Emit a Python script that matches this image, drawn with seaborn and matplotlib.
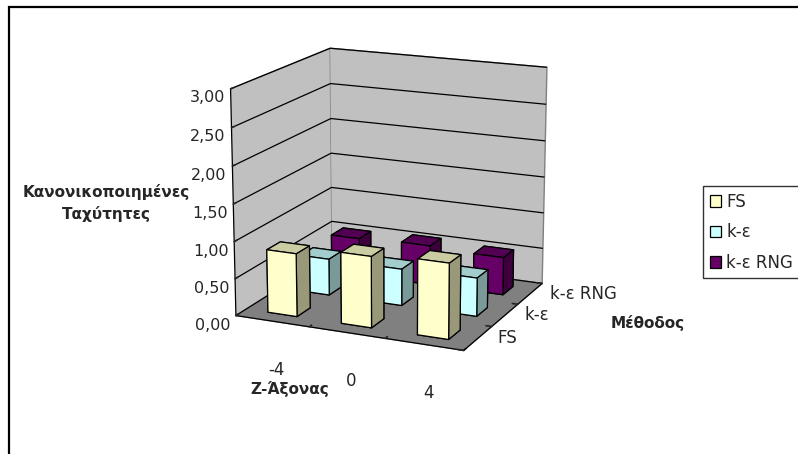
import numpy as np
import pandas as pd
import matplotlib
matplotlib.use("Agg")
import matplotlib.pyplot as plt
import seaborn as sns
from matplotlib.patches import Patch, Rectangle
from mpl_toolkits.mplot3d import proj3d

# ---------------- data ----------------
positions = ["-4", "0", "4"]                 # Ζ-Άξονας categories
methods = ["FS", "k-ε", "k-ε RNG"]           # Μέθοδος series
fs_values = [0.85, 0.95, 1.00]
ke_values = [0.50, 0.50, 0.52]
rng_values = [0.52, 0.55, 0.52]
z_ticks = [0.0, 0.5, 1.0, 1.5, 2.0, 2.5, 3.0]
z_tick_labels = ["0,00", "0,50", "1,00", "1,50", "2,00", "2,50", "3,00"]
series_colors = ["#FFFFCC", "#CCFFFF", "#660066"]

sns.set_theme(style="white")
plt.rcParams["font.family"] = ["DejaVu Sans"]

df = pd.DataFrame({
    "position": positions * 3,
    "method": np.repeat(methods, len(positions)),
    "value": fs_values + ke_values + rng_values,
})
df["xi"] = pd.Categorical(df["position"], categories=positions).codes
df["yi"] = pd.Categorical(df["method"], categories=methods).codes
palette = sns.color_palette(series_colors)

fig = plt.figure(figsize=(7.98, 4.54), dpi=100)
ax = fig.add_axes([0.155, 0.088, 0.66, 0.96], projection="3d")
ax.set_proj_type("persp", focal_length=0.8)
ax.view_init(elev=15.5, azim=-66)
ax.set_box_aspect((0.5554, 0.50, 0.5247), zoom=0.89)

# per-face shading like the spreadsheet 3D columns:
# face order in bar3d: bottom, top, front(-y), back(+y), left(-x), right(+x)
shade_factors = [0.5, 0.8, 1.0, 1.0, 0.6, 0.6]
face_colors = []
for yi in df["yi"]:
    base = np.array(palette[yi])
    face_colors += [tuple(base * s) for s in shade_factors]

bw = 0.4
ax.bar3d(df["xi"] - bw / 2, df["yi"] - bw / 2, np.zeros(len(df)),
         bw, bw, df["value"], color=face_colors, edgecolor="black",
         linewidth=0.9, shade=False)

ax.set_xlim(-0.5, len(positions) - 0.5)
ax.set_ylim(-0.5, len(methods) - 0.5)
ax.set_zlim(0, 3)

# panes
ax.xaxis.set_pane_color("#C0C0C0")
ax.yaxis.set_pane_color("#C0C0C0")
ax.zaxis.set_pane_color("#808080")
for a in (ax.xaxis, ax.yaxis, ax.zaxis):
    a.pane.set_edgecolor("#808080")
    a.line.set_color("black")
    a.line.set_linewidth(0.9)
ax.zaxis.set_ticks_position("lower")

ax.grid(True)
ax.xaxis._axinfo["grid"].update(color=(1, 1, 1, 0), linewidth=0)
ax.yaxis._axinfo["grid"].update(color=(1, 1, 1, 0), linewidth=0)
ax.zaxis._axinfo["grid"].update(color="black", linewidth=0.9, linestyle="-")
for a in (ax.xaxis, ax.yaxis, ax.zaxis):
    a._axinfo["tick"]["inward_factor"] = 0.0
    a._axinfo["tick"]["outward_factor"] = 0.3

ax.set_zticks(z_ticks)
ax.set_zticklabels(z_tick_labels, fontsize=11.5)
ax.set_xticks(np.arange(len(positions) + 1) - 0.5)
ax.set_xticklabels([""] * (len(positions) + 1))
ax.set_yticks(np.arange(len(methods) + 1) - 0.5)
ax.set_yticklabels([""] * (len(methods) + 1))

# category labels placed at projected positions on the floor edges
fig.canvas.draw()
M = ax.get_proj()
for i, lab in enumerate(positions):
    px, py, _ = proj3d.proj_transform(i, -0.5, 0, M)
    ax.annotate(lab, xy=(px, py), xycoords="data", xytext=(3, -35),
                textcoords="offset points", ha="center", va="center",
                fontsize=12, annotation_clip=False)
for j, lab in enumerate(methods):
    px, py, _ = proj3d.proj_transform(len(positions) - 0.5, j, 0, M)
    ax.annotate(lab, xy=(px, py), xycoords="data", xytext=(14, 0),
                textcoords="offset points", ha="left", va="center",
                fontsize=12, annotation_clip=False)

fig.text(106 / 798, 1 - 203 / 454, "Κανονικοποιημένες\nΤαχύτητες", ha="center",
         va="center", fontsize=11, fontweight="bold", linespacing=1.5)
fig.text(290 / 798, 1 - 389 / 454, "Ζ-Άξονας", ha="center", va="center",
         fontsize=11, fontweight="bold")
fig.text(648 / 798, 1 - 323 / 454, "Μέθοδος", ha="center", va="center",
         fontsize=11, fontweight="bold")

handles = [Patch(facecolor=c, edgecolor="black", linewidth=0.9) for c in palette]
leg = fig.legend(handles, methods, loc="upper left",
                 bbox_to_anchor=(703 / 798, 1 - 186 / 454), frameon=True,
                 fancybox=False, edgecolor="black", fontsize=12,
                 handlelength=0.7, handleheight=0.7, handletextpad=0.3,
                 labelspacing=0.75, borderaxespad=0, borderpad=0.4)
leg.get_frame().set_linewidth(1.0)

fig.add_artist(Rectangle((8.5 / 798, -0.1), 1.2, 1.1 - 7.5 / 454,
                         transform=fig.transFigure, fill=False,
                         edgecolor="black", linewidth=1.6))

fig.savefig("out.png", dpi=100)
